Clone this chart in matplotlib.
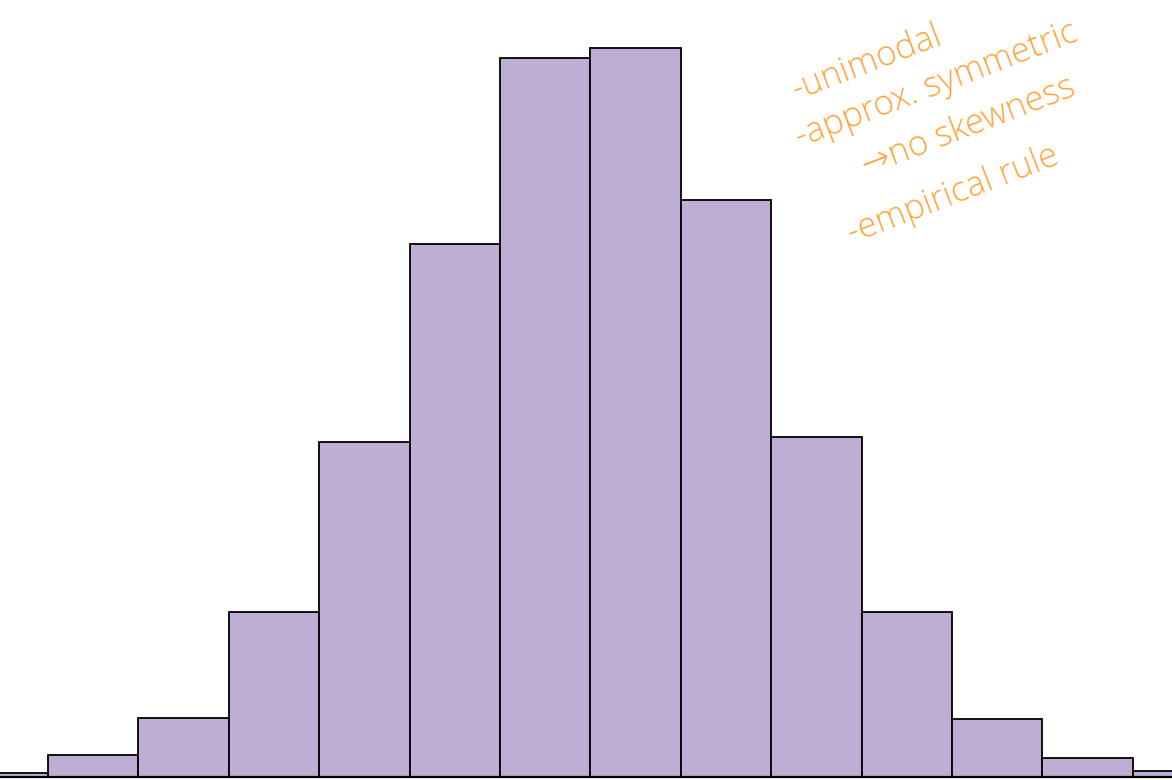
import numpy as np
import matplotlib.pyplot as plt

# bin edges (in bin-index units) and counts
edges = np.arange(-1, 14)
counts = [4, 22, 59, 165, 335, 533, 719, 729, 577, 340, 165, 58, 19, 6]
notes = ['-unimodal', '-approx. symmetric', '\u2192no skewness', '-empirical rule']

fig = plt.figure(figsize=(11.72, 7.8), dpi=100)
ax = fig.add_axes([0, 0, 1, 1])

ax.bar(edges[:-1], counts, width=1, align='edge', color='#BEAED4',
       edgecolor='black', linewidth=1.3)

ax.set_xlim(-0.531, 12.434)
ax.set_ylim(-3, 777)
for s in ['top', 'left', 'right']:
    ax.spines[s].set_visible(False)
ax.spines['bottom'].set_position(('data', 0))
ax.spines['bottom'].set_linewidth(1.6)
ax.set_xticks([])
ax.set_yticks([])

# handwritten notes, positions in figure pixels from the top-left
note_pos = [(797, 100), (800, 148), (866, 176), (852, 244)]
for txt, (px, py) in zip(notes, note_pos):
    ax.text(px / 1172, 1 - py / 780, txt, transform=ax.transAxes,
            rotation=21, rotation_mode='anchor', ha='left', va='baseline',
            fontsize=25, color='#FFA43C', family=['Open Sans', 'DejaVu Sans'],
            fontweight='light')

fig.savefig('out.png', dpi=100)
